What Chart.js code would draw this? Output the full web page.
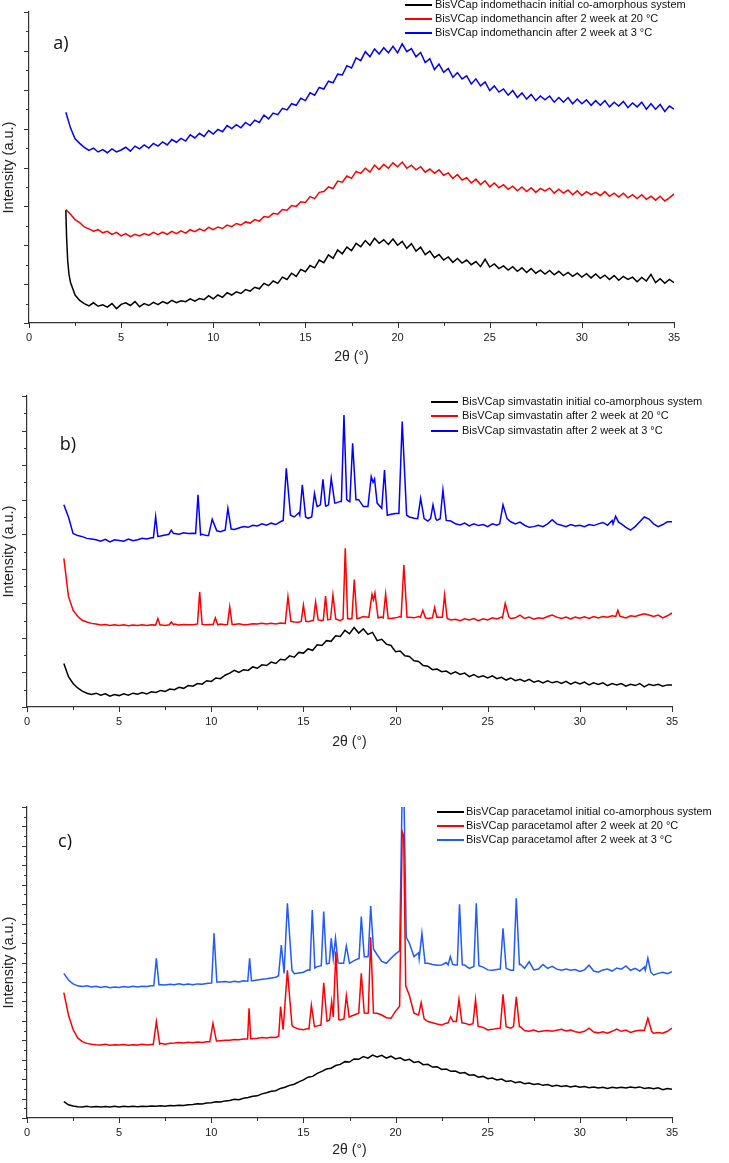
<!DOCTYPE html>
<html>
<head>
<meta charset="utf-8">
<script src="https://cdn.jsdelivr.net/npm/chart.js@4.4.0/dist/chart.umd.min.js"></script>
<style>
	html, body { margin: 0; padding: 0; background: #fff; }
	body { width: 729px; height: 1163px; position: relative; overflow: hidden; }
	canvas { position: absolute; left: 0; }
</style>
</head>
<body>
<canvas id="xrd-a" width="729" height="370" style="top:0px"></canvas>
<canvas id="xrd-b" width="729" height="380" style="top:375px"></canvas>
<canvas id="xrd-c" width="729" height="403" style="top:760px"></canvas>
<script>

	// --- Data ---
	// tick labels of the 2θ axis
	var thetaTicks = [0, 5, 10, 15, 20, 25, 30, 35];

	// 2θ grid of the base traces: 2° .. 35° in 0.25° steps
	var thetaGrid = [];
	for (var t = 0; t <= 132; t++) thetaGrid.push(2 + t * 0.25);

	// a) indomethacin, intensity in axis units (0..8), one row per degree
	var aBlack = [
		2.90, 1.05, 0.72, 0.58,  0.50, 0.44, 0.52, 0.43,  0.47, 0.41, 0.50, 0.37,  0.48, 0.52, 0.45, 0.55,
		0.42, 0.50, 0.45, 0.53,  0.47, 0.55, 0.50, 0.58,  0.52, 0.57, 0.55, 0.62,  0.56, 0.63, 0.60, 0.70,
		0.62, 0.72, 0.66, 0.78,  0.72, 0.80, 0.76, 0.86,  0.82, 0.92, 0.88, 1.02,  0.96, 1.08, 1.02, 1.18,
		1.12, 1.28, 1.20, 1.38,  1.32, 1.48, 1.42, 1.62,  1.55, 1.75, 1.66, 1.88,  1.78, 1.95, 1.86, 2.05,
		1.96, 2.12, 2.00, 2.18,  2.05, 2.14, 2.02, 2.16,  2.00, 2.10, 1.92, 2.04,  1.85, 1.95, 1.76, 1.85,
		1.68, 1.76, 1.62, 1.70,  1.56, 1.66, 1.54, 1.62,  1.50, 1.58, 1.45, 1.64,  1.44, 1.52, 1.40, 1.47,
		1.36, 1.45, 1.33, 1.42,  1.30, 1.40, 1.28, 1.36,  1.26, 1.35, 1.24, 1.33,  1.22, 1.30, 1.20, 1.28,
		1.18, 1.27, 1.16, 1.26,  1.15, 1.23, 1.12, 1.22,  1.10, 1.20, 1.12, 1.18,  1.06, 1.17, 1.08, 1.25,
		1.04, 1.14, 1.02, 1.12,  1.04
	];
	var aBlackPeaks = [[[2.04, 2.2], [2.1, 1.6], [2.17, 1.25]]];

	var aRed = [
		2.92, 2.80, 2.66, 2.58,  2.47, 2.42, 2.36, 2.40,  2.32, 2.36, 2.28, 2.33,  2.24, 2.30, 2.22, 2.28,
		2.24, 2.30, 2.26, 2.33,  2.27, 2.34, 2.28, 2.36,  2.30, 2.37, 2.31, 2.40,  2.35, 2.42, 2.37, 2.46,
		2.40, 2.47, 2.43, 2.52,  2.48, 2.56, 2.52, 2.60,  2.57, 2.66, 2.62, 2.74,  2.72, 2.82, 2.80, 2.92,
		2.90, 3.02, 3.00, 3.12,  3.10, 3.25, 3.20, 3.36,  3.38, 3.50, 3.46, 3.65,  3.62, 3.78, 3.72, 3.90,
		3.85, 3.98, 3.88, 4.06,  3.95, 4.08, 3.98, 4.12,  4.02, 4.14, 3.98, 4.06,  3.94, 4.02, 3.88, 3.96,
		3.85, 3.94, 3.80, 3.86,  3.72, 3.82, 3.68, 3.74,  3.60, 3.70, 3.56, 3.66,  3.50, 3.60, 3.48, 3.56,
		3.44, 3.52, 3.40, 3.50,  3.38, 3.48, 3.36, 3.46,  3.40, 3.47, 3.34, 3.44,  3.34, 3.42, 3.30, 3.40,
		3.28, 3.38, 3.30, 3.36,  3.28, 3.38, 3.26, 3.34,  3.24, 3.34, 3.22, 3.30,  3.20, 3.30, 3.18, 3.26,
		3.16, 3.26, 3.14, 3.22,  3.32
	];

	var aBlue = [
		5.42, 5.02, 4.74, 4.62,  4.52, 4.44, 4.50, 4.40,  4.46, 4.38, 4.48, 4.40,  4.45, 4.52, 4.42, 4.55,
		4.48, 4.58, 4.50, 4.62,  4.55, 4.66, 4.58, 4.72,  4.65, 4.75, 4.68, 4.84,  4.76, 4.88, 4.80, 4.95,
		4.86, 4.98, 4.92, 5.08,  5.00, 5.10, 5.02, 5.16,  5.08, 5.22, 5.16, 5.35,  5.25, 5.40, 5.36, 5.52,
		5.48, 5.64, 5.60, 5.78,  5.72, 5.92, 5.86, 6.06,  6.02, 6.22, 6.18, 6.40,  6.38, 6.62, 6.56, 6.82,
		6.75, 6.98, 6.85, 7.05,  6.92, 7.08, 6.95, 7.12,  6.95, 7.18, 6.98, 7.06,  6.85, 6.96, 6.70, 6.80,
		6.52, 6.66, 6.45, 6.55,  6.32, 6.44, 6.28, 6.36,  6.15, 6.28, 6.10, 6.20,  5.98, 6.10, 5.94, 6.02,
		5.86, 5.98, 5.80, 5.92,  5.76, 5.88, 5.72, 5.84,  5.74, 5.84, 5.68, 5.80,  5.68, 5.80, 5.64, 5.76,
		5.64, 5.74, 5.60, 5.72,  5.60, 5.72, 5.56, 5.68,  5.58, 5.70, 5.54, 5.66,  5.56, 5.68, 5.50, 5.64,
		5.50, 5.62, 5.44, 5.58,  5.50
	];

	// b) simvastatin, axis units 0..9
	var bBlack = [
		1.26, 0.88, 0.68, 0.55,  0.46, 0.40, 0.36, 0.40,  0.34, 0.38, 0.31, 0.36,  0.33, 0.38, 0.34, 0.40,
		0.37, 0.42, 0.38, 0.44,  0.42, 0.48, 0.45, 0.52,  0.50, 0.57, 0.54, 0.62,  0.60, 0.68, 0.66, 0.76,
		0.74, 0.84, 0.82, 0.92,  0.98, 1.06, 1.00, 1.08,  1.06, 1.16, 1.12, 1.22,  1.20, 1.30, 1.26, 1.38,
		1.36, 1.48, 1.44, 1.58,  1.56, 1.68, 1.64, 1.80,  1.78, 1.92, 1.90, 2.06,  2.04, 2.22, 2.12, 2.30,
		2.14, 2.26, 2.10, 2.16,  1.92, 1.96, 1.82, 1.78,  1.60, 1.62, 1.48, 1.46,  1.34, 1.32, 1.20, 1.18,
		1.08, 1.10, 1.02, 1.04,  0.96, 1.02, 0.94, 0.98,  0.88, 0.94, 0.86, 0.90,  0.84, 0.90, 0.82, 0.86,
		0.78, 0.84, 0.76, 0.80,  0.74, 0.80, 0.72, 0.76,  0.70, 0.76, 0.70, 0.74,  0.68, 0.74, 0.66, 0.72,
		0.67, 0.72, 0.64, 0.70,  0.65, 0.70, 0.62, 0.68,  0.64, 0.68, 0.60, 0.66,  0.62, 0.68, 0.58, 0.66,
		0.62, 0.66, 0.60, 0.64,  0.64
	];

	var bRed = [
		4.30, 3.20, 2.80, 2.62,  2.51, 2.46, 2.42, 2.40,  2.37, 2.39, 2.36, 2.38,  2.36, 2.38, 2.35, 2.37,
		2.36, 2.38, 2.36, 2.38,  2.37, 2.38, 2.36, 2.38,  2.40, 2.37, 2.39, 2.38,  2.38, 2.40, 2.40, 2.38,
		2.39, 2.38, 2.40, 2.38,  2.40, 2.39, 2.41, 2.38,  2.39, 2.41, 2.40, 2.42,  2.40, 2.42, 2.40, 2.43,
		2.42, 2.50, 2.46, 2.45,  2.48, 2.47, 2.50, 2.52,  2.50, 2.55, 2.55, 2.56,  2.50, 2.62, 2.55, 2.58,
		2.56, 2.62, 2.60, 2.64,  2.58, 2.60, 2.56, 2.56,  2.58, 2.62, 2.60, 2.60,  2.58, 2.62, 2.60, 2.56,
		2.58, 2.60, 2.60, 2.62,  2.52, 2.54, 2.50, 2.55,  2.52, 2.56, 2.50, 2.55,  2.52, 2.58, 2.55, 2.60,
		2.64, 2.56, 2.58, 2.66,  2.56, 2.60, 2.54, 2.58,  2.56, 2.62, 2.66, 2.60,  2.56, 2.60, 2.55, 2.60,
		2.57, 2.61, 2.56, 2.62,  2.58, 2.62, 2.60, 2.64,  2.66, 2.62, 2.58, 2.64,  2.62, 2.66, 2.70, 2.66,
		2.62, 2.66, 2.58, 2.64,  2.72
	];
	var bRedPeaks = [
		[[6.98, 2.37], [7.1, 2.56], [7.22, 2.37]],
		[[7.72, 2.38], [7.83, 2.46], [7.95, 2.38]],
		[[9.25, 2.39], [9.37, 3.33], [9.5, 2.39]],
		[[10.1, 2.39], [10.22, 2.58], [10.35, 2.38]],
		[[10.88, 2.39], [11.0, 2.9], [11.13, 2.39]],
		[[14.02, 2.45], [14.16, 3.19], [14.32, 2.48]],
		[[14.88, 2.48], [15.0, 2.95], [15.13, 2.48]],
		[[15.54, 2.5], [15.66, 3.04], [15.8, 2.52]],
		[[16.08, 2.52], [16.2, 3.21], [16.32, 2.52]],
		[[16.47, 2.54], [16.6, 3.24], [16.75, 2.55]],
		[[17.15, 2.55], [17.27, 4.59], [17.4, 2.56]],
		[[17.63, 2.56], [17.76, 3.69], [17.9, 2.56]],
		[[18.55, 2.6], [18.72, 3.26], [18.8, 3.1], [18.88, 3.3], [19.05, 2.58]],
		[[19.33, 2.58], [19.46, 3.27], [19.6, 2.56]],
		[[20.3, 2.6], [20.45, 4.11], [20.62, 2.6]],
		[[21.35, 2.6], [21.48, 2.8], [21.62, 2.58]],
		[[22.0, 2.58], [22.12, 2.88], [22.24, 2.6]],
		[[22.54, 2.6], [22.66, 3.24], [22.8, 2.56]],
		[[25.8, 2.58], [25.95, 3.0], [26.15, 2.6]],
		[[31.95, 2.62], [32.06, 2.8], [32.18, 2.62]]
	];

	var bBlue = [
		5.85, 5.50, 5.02, 4.96,  4.93, 4.88, 4.86, 4.84,  4.80, 4.85, 4.78, 4.84,  4.82, 4.80, 4.86, 4.81,
		4.84, 4.88, 4.86, 4.90,  4.94, 4.95, 4.98, 5.08,  5.02, 5.00, 5.04, 5.02,  5.03, 5.05, 5.00, 4.96,
		5.30, 5.25, 5.07, 5.12,  5.20, 5.14, 5.18, 5.22,  5.20, 5.26, 5.24, 5.30,  5.26, 5.32, 5.28, 5.36,
		5.40, 5.55, 5.50, 5.62,  5.55, 5.46, 5.62, 5.80,  5.96, 5.82, 5.85, 5.90,  5.95, 6.00, 5.94, 6.00,
		6.00, 5.80, 5.80, 6.40,  5.90, 5.75, 5.55, 5.58,  5.60, 5.70, 5.58, 5.50,  5.46, 5.70, 5.45, 5.38,
		5.60, 5.40, 5.48, 5.40,  5.38, 5.30, 5.27, 5.32,  5.24, 5.30, 5.25, 5.28,  5.22, 5.30, 5.26, 5.45,
		5.50, 5.36, 5.30, 5.35,  5.26, 5.20, 5.22, 5.26,  5.22, 5.30, 5.42, 5.30,  5.26, 5.22, 5.28, 5.24,
		5.26, 5.22, 5.28, 5.25,  5.30, 5.34, 5.26, 5.40,  5.42, 5.30, 5.20, 5.12,  5.22, 5.36, 5.50, 5.44,
		5.30, 5.22, 5.28, 5.36,  5.36
	];
	var bBluePeaks = [
		[[6.86, 4.9], [6.98, 5.51], [7.1, 4.94]],
		[[7.7, 5.0], [7.83, 5.12], [7.95, 5.02]],
		[[9.15, 5.02], [9.28, 6.14], [9.42, 4.98]],
		[[9.85, 4.96], [10.05, 5.43], [10.3, 5.1]],
		[[10.75, 5.1], [10.9, 5.75], [11.08, 5.15]],
		[[13.9, 5.4], [14.07, 6.91], [14.3, 5.55]],
		[[14.8, 5.55], [14.94, 6.43], [15.12, 5.5]],
		[[15.45, 5.5], [15.6, 6.18], [15.72, 5.85]],
		[[15.92, 5.85], [16.06, 6.59], [16.2, 5.82]],
		[[16.36, 5.85], [16.51, 6.62], [16.7, 5.9]],
		[[17.06, 5.95], [17.2, 8.45], [17.35, 6.0]],
		[[17.52, 5.96], [17.67, 7.63], [17.85, 6.0]],
		[[18.5, 5.8], [18.68, 6.67], [18.78, 6.5], [18.86, 6.6], [19.0, 5.9]],
		[[19.25, 5.75], [19.4, 6.86], [19.55, 5.55]],
		[[20.18, 5.6], [20.36, 8.26], [20.6, 5.55]],
		[[21.2, 5.45], [21.36, 6.04], [21.55, 5.45]],
		[[21.9, 5.45], [22.03, 5.85], [22.18, 5.45]],
		[[22.42, 5.45], [22.57, 6.28], [22.75, 5.4]],
		[[25.65, 5.3], [25.83, 5.85], [26.05, 5.45]],
		[[31.8, 5.3], [31.94, 5.52], [32.1, 5.35]]
	];

	// c) paracetamol, axis units 0..16
	var cBlack = [
		0.84, 0.68, 0.62, 0.58,  0.57, 0.60, 0.56, 0.59,  0.56, 0.59, 0.57, 0.60,  0.57, 0.60, 0.58, 0.60,
		0.58, 0.61, 0.59, 0.62,  0.60, 0.63, 0.61, 0.64,  0.63, 0.66, 0.64, 0.68,  0.70, 0.73, 0.72, 0.77,
		0.79, 0.83, 0.82, 0.88,  0.90, 0.96, 0.94, 1.02,  1.06, 1.12, 1.14, 1.24,  1.30, 1.38, 1.40, 1.52,
		1.58, 1.68, 1.74, 1.86,  1.96, 2.10, 2.14, 2.30,  2.40, 2.52, 2.56, 2.70,  2.76, 2.90, 2.88, 3.04,
		3.02, 3.16, 3.08, 3.24,  3.14, 3.22, 3.08, 3.18,  3.04, 3.10, 2.96, 3.02,  2.86, 2.90, 2.74, 2.76,
		2.62, 2.64, 2.50, 2.52,  2.40, 2.42, 2.30, 2.34,  2.20, 2.22, 2.10, 2.14,  2.02, 2.06, 1.96, 2.00,
		1.88, 1.92, 1.82, 1.86,  1.76, 1.80, 1.72, 1.76,  1.68, 1.72, 1.64, 1.68,  1.62, 1.66, 1.60, 1.64,
		1.58, 1.62, 1.56, 1.60,  1.54, 1.58, 1.52, 1.58,  1.55, 1.58, 1.54, 1.60,  1.56, 1.60, 1.52, 1.56,
		1.50, 1.55, 1.46, 1.52,  1.48
	];

	var cRed = [
		6.45, 5.30, 4.55, 4.12,  3.93, 3.84, 3.79, 3.77,  3.76, 3.79, 3.74, 3.77,  3.75, 3.78, 3.74, 3.77,
		3.76, 3.79, 3.75, 3.78,  3.80, 3.84, 3.80, 3.84,  3.86, 3.89, 3.86, 3.90,  3.87, 3.91, 3.88, 3.92,
		3.94, 3.96, 3.98, 4.00,  4.00, 4.04, 4.02, 4.06,  4.05, 4.08, 4.10, 4.14,  4.12, 4.16, 4.14, 4.20,
		4.50, 4.72, 4.66, 4.58,  4.54, 4.60, 4.62, 4.74,  4.80, 4.94, 5.04, 5.00,  5.04, 5.14, 5.21, 5.30,
		5.39, 5.40, 5.39, 5.42,  5.39, 5.30, 5.16, 5.13,  5.50, 5.73, 6.76, 6.30,  5.39, 5.30, 5.10, 4.96,
		4.90, 4.84, 4.79, 4.88,  5.00, 4.96, 5.02, 4.88,  4.80, 4.90, 4.71, 4.66,  4.53, 4.56, 4.60, 4.70,
		4.70, 4.62, 4.70, 4.71,  4.50, 4.46, 4.52, 4.44,  4.48, 4.50, 4.46, 4.52,  4.56, 4.48, 4.52, 4.44,
		4.40, 4.46, 4.62, 4.42,  4.38, 4.44, 4.36, 4.46,  4.58, 4.46, 4.52, 4.40,  4.48, 4.52, 4.50, 4.60,
		4.36, 4.40, 4.36, 4.46,  4.62
	];
	var cRedPeaks = [
		[[6.85, 3.78], [7.02, 4.96], [7.2, 3.8]],
		[[9.92, 3.92], [10.09, 4.87], [10.28, 3.96]],
		[[11.97, 4.06], [12.05, 5.64], [12.14, 4.08]],
		[[13.66, 4.22], [13.76, 5.73], [13.9, 4.55], [14.13, 7.6], [14.38, 4.75]],
		[[15.3, 4.58], [15.43, 5.81], [15.6, 4.7]],
		[[15.95, 4.78], [16.1, 6.96], [16.28, 4.98]],
		[[16.42, 5.04], [16.53, 5.99], [16.62, 5.2], [16.76, 8.56], [16.92, 5.06]],
		[[17.2, 5.1], [17.33, 6.29], [17.48, 5.2]],
		[[18.0, 5.39], [18.14, 7.44], [18.3, 5.4]],
		[[18.52, 5.4], [18.65, 9.3], [18.8, 5.4]],
		[[20.22, 5.75], [20.36, 14.73], [20.44, 14.5], [20.55, 6.8]],
		[[21.25, 5.3], [21.39, 5.93], [21.55, 5.1]],
		[[22.85, 4.9], [22.99, 5.21], [23.12, 4.96]],
		[[23.3, 4.96], [23.44, 6.1], [23.6, 4.9]],
		[[24.2, 4.85], [24.34, 6.1], [24.48, 4.72]],
		[[25.68, 4.62], [25.83, 6.36], [26.0, 4.7]],
		[[26.4, 4.7], [26.55, 6.24], [26.72, 4.7]],
		[[33.5, 4.5], [33.69, 5.13], [33.9, 4.45]]
	];

	var cBlue = [
		7.44, 7.10, 6.90, 6.80,  6.76, 6.80, 6.74, 6.78,  6.72, 6.76, 6.70, 6.74,  6.72, 6.76, 6.73, 6.78,
		6.74, 6.78, 6.76, 6.80,  6.82, 6.86, 6.84, 6.88,  6.86, 6.90, 6.85, 6.89,  6.86, 6.90, 6.88, 6.92,
		6.94, 6.98, 7.00, 7.02,  6.98, 7.04, 7.00, 7.06,  7.02, 7.06, 7.10, 7.14,  7.16, 7.20, 7.24, 7.30,
		7.50, 7.60, 7.42, 7.46,  7.50, 7.62, 7.70, 7.79,  7.84, 7.90, 7.96, 7.92,  7.96, 7.98, 7.96, 8.10,
		8.20, 8.28, 8.30, 8.73,  8.40, 8.06, 7.96, 8.22,  8.44, 8.64, 9.33, 8.99,  8.30, 8.50, 7.98, 7.96,
		7.90, 7.86, 7.87, 8.00,  8.20, 7.87, 7.88, 7.87,  7.70, 7.80, 7.84, 7.76,  7.62, 7.60, 7.64, 7.70,
		7.70, 7.60, 7.66, 7.92,  7.70, 8.04, 7.62, 7.66,  7.90, 7.70, 7.80, 7.66,  7.60, 7.66, 7.60, 7.64,
		7.54, 7.62, 7.86, 7.56,  7.50, 7.62, 7.66, 7.56,  7.72, 7.66, 7.82, 7.60,  7.70, 7.56, 7.76, 7.90,
		7.36, 7.44, 7.50, 7.42,  7.53
	];
	var cBluePeaks = [
		[[6.88, 6.8], [7.02, 8.22], [7.16, 6.86]],
		[[10.02, 6.96], [10.15, 9.5], [10.3, 7.0]],
		[[11.98, 7.04], [12.08, 8.22], [12.18, 7.06]],
		[[13.65, 7.32], [13.8, 8.9], [13.95, 7.44], [14.13, 11.05], [14.38, 7.6]],
		[[15.35, 7.6], [15.48, 10.7], [15.62, 7.72]],
		[[15.97, 7.84], [16.1, 10.62], [16.25, 7.92]],
		[[16.4, 7.96], [16.51, 9.25], [16.62, 8.2], [16.74, 9.25], [16.88, 7.98]],
		[[17.18, 7.96], [17.33, 8.85], [17.5, 7.96]],
		[[18.02, 8.2], [18.14, 10.36], [18.3, 8.3]],
		[[18.52, 8.4], [18.65, 10.91], [18.8, 8.7]],
		[[20.22, 8.6], [20.36, 16.9], [20.45, 16.9], [20.58, 9.3]],
		[[21.28, 8.2], [21.43, 9.5], [21.6, 7.96]],
		[[22.85, 7.88], [22.97, 8.3], [23.1, 7.9]],
		[[23.35, 7.87], [23.47, 10.99], [23.62, 7.88]],
		[[24.25, 7.8], [24.38, 11.05], [24.52, 7.84]],
		[[25.68, 7.66], [25.83, 9.76], [26.0, 7.7]],
		[[26.4, 7.6], [26.55, 11.3], [26.72, 7.9]],
		[[33.55, 7.6], [33.69, 8.22], [33.85, 7.5]]
	];
	// --- end Data ---


	Chart.defaults.font.family = '"Liberation Sans", Arial, sans-serif';
	Chart.defaults.color = '#222';

	// base grid + sharp reflections; grid points under a peak are dropped
	function trace(base, peaks) {
		var pts = thetaGrid.map(function(x, i) { return { x: x, y: base[i] }; });
		(peaks || []).forEach(function(g) {
			var lo = g[0][0], hi = g[g.length - 1][0];
			pts = pts.filter(function(p) { return p.x <= lo || p.x >= hi; });
			g.forEach(function(p) { pts.push({ x: p[0], y: p[1] }); });
		});
		pts.sort(function(a, b) { return a.x - b.x; });
		return pts;
	}

	// --- ticks, panel letter and legend ---
	var panelDeco = {
		id: 'panelDeco',
		afterDraw: function(chart, args, o) {
			var ctx = chart.ctx, xs = chart.scales.x, ys = chart.scales.y;
			ctx.save();
			ctx.strokeStyle = '#333';
			ctx.lineWidth = 1;
			for (var v = 0; v <= 35; v += 2.5) {
				var px = Math.round(xs.getPixelForValue(v)) + 0.5;
				ctx.beginPath();
				ctx.moveTo(px, ys.bottom);
				ctx.lineTo(px, ys.bottom + (v % 5 === 0 ? 5 : 3));
				ctx.stroke();
			}
			for (var w = 0; w <= ys.max; w += 0.5) {
				var py = Math.round(ys.getPixelForValue(w)) + 0.5;
				ctx.beginPath();
				ctx.moveTo(xs.left, py);
				ctx.lineTo(xs.left - (w % 1 === 0 ? 5 : 3), py);
				ctx.stroke();
			}

			ctx.fillStyle = '#111';
			ctx.font = '18px "Open Sans", sans-serif';
			ctx.textAlign = 'center';
			ctx.textBaseline = 'middle';
			ctx.fillText(o.tag, o.tagX, o.tagY);

			ctx.font = '11px "Liberation Sans", Arial, sans-serif';
			ctx.textAlign = 'left';
			chart.data.datasets.forEach(function(ds, i) {
				var y = o.rows[i];
				ctx.strokeStyle = ds.borderColor;
				ctx.lineWidth = 2;
				ctx.beginPath();
				ctx.moveTo(o.lineX[0], y);
				ctx.lineTo(o.lineX[1], y);
				ctx.stroke();
				ctx.fillStyle = '#111';
				ctx.fillText(ds.label, o.textX, y);
			});
			ctx.restore();
		}
	};

	function makePanel(id, series, yMax, box, deco) {
		var axisBorder = { display: true, color: '#333', width: 1.2 };
		var tickGrid = { drawOnChartArea: false, tickLength: 5, tickColor: 'rgba(0,0,0,0)' };
		return new Chart(document.getElementById(id), {
			type: 'line',
			data: {
				datasets: series.map(function(s) {
					return {
						label: s.label,
						data: s.data,
						borderColor: s.color,
						borderWidth: 1.5,
						pointRadius: 0,
						tension: 0,
						fill: false
					};
				})
			},
			options: {
				responsive: false,
				animation: false,
				layout: { padding: { top: box.top, right: box.right, left: 0, bottom: 0 } },
				plugins: {
					legend: { display: false },
					tooltip: { enabled: false },
					panelDeco: deco
				},
				scales: {
					x: {
						type: 'linear',
						min: 0,
						max: 35,
						afterFit: function(s) { s.height = box.xh; },
						border: axisBorder,
						grid: tickGrid,
						ticks: {
							stepSize: 5,
							padding: 3,
							autoSkip: false,
							maxRotation: 0,
							font: { size: 11 },
							callback: function(v) { return thetaTicks.indexOf(v) >= 0 ? String(v) : ''; }
						},
						title: { display: true, text: '2θ (°)', font: { size: 14 }, padding: { top: 4, bottom: 4 } }
					},
					y: {
						min: 0,
						max: yMax,
						afterFit: function(s) { s.width = box.yw; },
						border: axisBorder,
						grid: tickGrid,
						ticks: { display: false, stepSize: 1 },
						title: { display: true, text: 'Intensity (a.u.)', font: { size: 14.5 }, padding: { top: 0, bottom: 0 } }
					}
				}
			},
			plugins: [panelDeco]
		});
	}


	// --- a) indomethacin ---
	makePanel('xrd-a', [
		{ label: 'BisVCap indomethacin initial co-amorphous system', data: trace(aBlack, aBlackPeaks), color: '#000000' },
		{ label: 'BisVCap indomethancin after 2 week at 20 °C', data: trace(aRed), color: '#ff0000' },
		{ label: 'BisVCap indomethancin after 2 week at 3 °C', data: trace(aBlue), color: '#0000ff' }
	], 8, { top: 12, right: 55, xh: 47, yw: 29 },
	{ tag: 'a)', tagX: 61, tagY: 44, rows: [5, 19, 33], lineX: [405, 432], textX: 435 });

	// --- b) simvastatin ---
	makePanel('xrd-b', [
		{ label: 'BisVCap simvastatin initial co-amorphous system', data: trace(bBlack), color: '#000000' },
		{ label: 'BisVCap simvastatin after 2 week at 20 °C', data: trace(bRed, bRedPeaks), color: '#ff0000' },
		{ label: 'BisVCap simvastatin after 2 week at 3 °C', data: trace(bBlue, bBluePeaks), color: '#0000ff' }
	], 9, { top: 21, right: 57, xh: 48, yw: 27 },
	{ tag: 'b)', tagX: 68, tagY: 70, rows: [27, 41, 56], lineX: [431, 458], textX: 462 });

	// --- c) paracetamol ---
	makePanel('xrd-c', [
		{ label: 'BisVCap paracetamol initial co-amorphous system', data: trace(cBlack), color: '#000000' },
		{ label: 'BisVCap paracetamol after 2 week at 20 °C', data: trace(cRed, cRedPeaks), color: '#ff0000' },
		{ label: 'BisVCap paracetamol after 2 week at 3 °C', data: trace(cBlue, cBluePeaks), color: '#1f5bff' }
	], 16, { top: 47, right: 57, xh: 45, yw: 27 },
	{ tag: 'c)', tagX: 65, tagY: 82, rows: [52, 66, 80], lineX: [437, 464], textX: 466 });

</script>
</body>
</html>
